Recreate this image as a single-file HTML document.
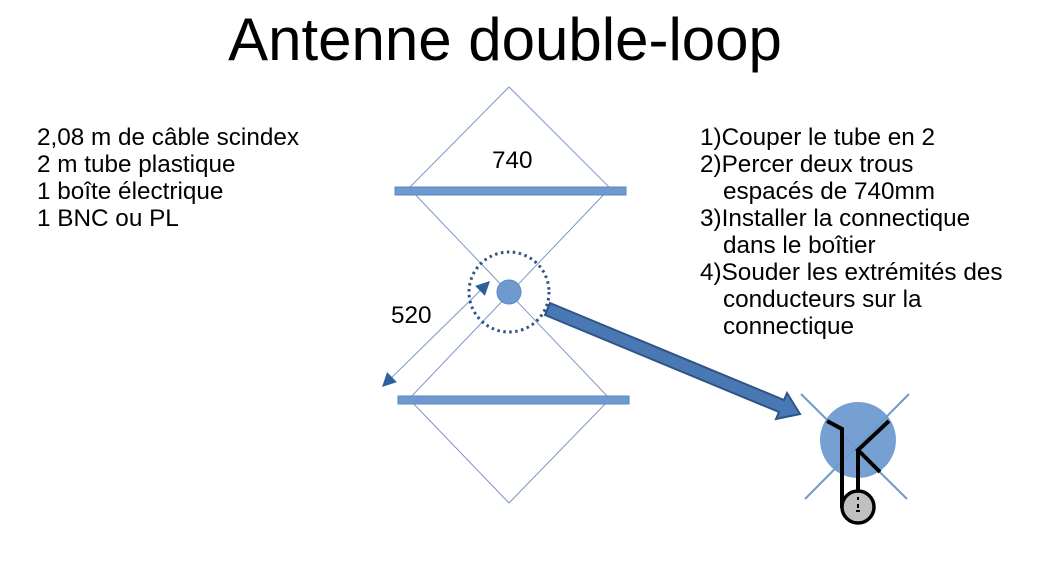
<!DOCTYPE html>
<html><head><meta charset="utf-8"><style>
html,body{margin:0;padding:0;background:#fff;width:1049px;height:581px;overflow:hidden}
svg{display:block}
text{font-family:"Liberation Sans",sans-serif;fill:#000}
</style></head><body>
<svg width="1049" height="581" viewBox="0 0 1049 581">
<defs>
<marker id="ah" viewBox="0 0 10 10" refX="9" refY="5" markerUnits="userSpaceOnUse" markerWidth="16" markerHeight="14" orient="auto-start-reverse"><path d="M0,0 L10,5 L0,10 z" fill="#2f5f9e"/></marker>
</defs>
<text x="505" y="60" font-size="60" text-anchor="middle">Antenne double-loop</text>
<g font-size="24.3">
<text x="37" y="145">2,08 m de câble scindex</text>
<text x="37" y="172">2 m tube plastique</text>
<text x="37" y="199">1 boîte électrique</text>
<text x="37" y="226">1 BNC ou PL</text>
<text x="700" y="145">1)Couper le tube en 2</text>
<text x="700" y="172">2)Percer deux trous</text>
<text x="723" y="199">espacés de 740mm</text>
<text x="700" y="226">3)Installer la connectique</text>
<text x="723" y="253">dans le boîtier</text>
<text x="700" y="280">4)Souder les extrémités des</text>
<text x="723" y="307">conducteurs sur la</text>
<text x="723" y="334">connectique</text>
<text x="492" y="168">740</text>
<text x="391" y="323">520</text>
</g>
<g stroke="#7d97c8" stroke-width="1" fill="none">
<path d="M509,87 L409,188 L610,399 L509,503 L409,399 L610,188 Z"/>
</g>
<rect x="395" y="187" width="231" height="8" fill="#6f9ad0" stroke="#5b86c0"/>
<rect x="398" y="396" width="231" height="8" fill="#6f9ad0" stroke="#5b86c0"/>
<line x1="383" y1="386" x2="489" y2="282" stroke="#7d97c8" stroke-width="1" marker-start="url(#ah)" marker-end="url(#ah)"/>
<circle cx="509" cy="292" r="40" fill="none" stroke="#2f5585" stroke-width="3" stroke-dasharray="2.5,3.5"/>
<circle cx="509" cy="292" r="12" fill="#6f9ad0" stroke="#5b86c0"/>
<path d="M550,303 L784,400 L787,393 L800,414 L776,419 L779,412 L545,315 Z" fill="#4a78b5" stroke="#2f5585" stroke-width="2"/>
<g stroke="#6f9ad0" stroke-width="2">
<line x1="801" y1="394" x2="907" y2="499"/>
<line x1="909" y1="394" x2="805" y2="499"/>
</g>
<circle cx="858" cy="440" r="38" fill="#6f9ad0" opacity="0.95"/>
<g stroke="#000" stroke-width="4" fill="none">
<path d="M827,421 L842,429 L842,508"/>
<path d="M889,421 L858,450 L880,472"/>
<path d="M858,450 L858,494"/>
</g>
<circle cx="858" cy="507" r="16" fill="#c0c0c0" stroke="#000" stroke-width="3.5"/>
<g stroke="#000" stroke-width="2"><line x1="858" y1="497" x2="858" y2="500"/><line x1="858" y1="504" x2="858" y2="508"/><line x1="856" y1="511" x2="860" y2="511"/></g>
</svg>
</body></html>
